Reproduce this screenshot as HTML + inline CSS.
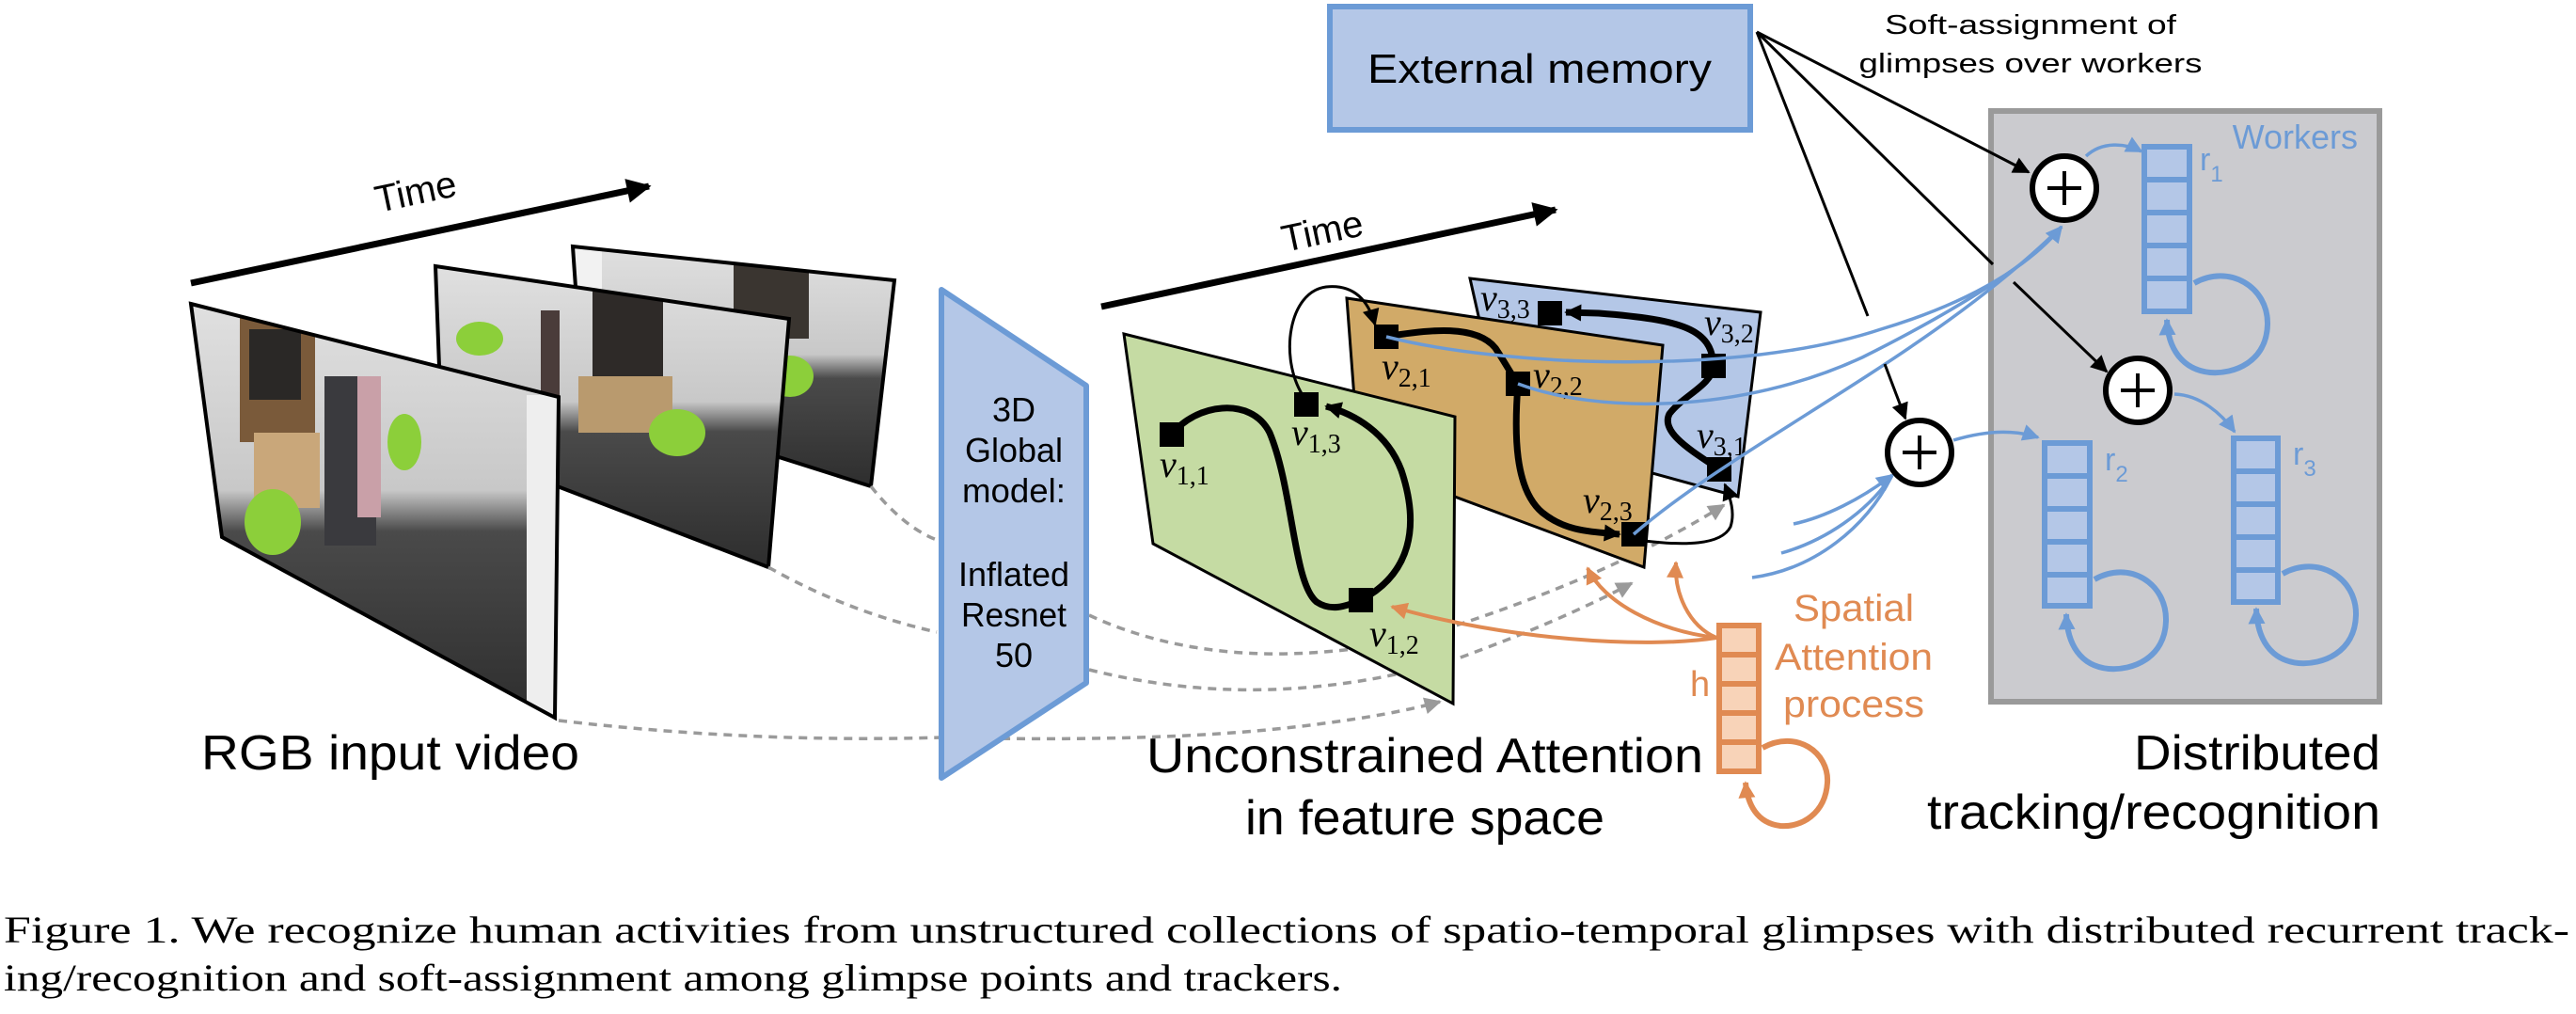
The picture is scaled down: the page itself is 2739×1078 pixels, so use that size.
<!DOCTYPE html>
<html><head><meta charset="utf-8"><style>
html,body{margin:0;padding:0;background:#fff;}
svg{display:block;}
.s{font-family:"Liberation Sans",sans-serif;}
.m{font-family:"Liberation Serif","DejaVu Serif",serif;}
</style></head><body>
<svg width="2739" height="1078" viewBox="0 0 2739 1078" xmlns="http://www.w3.org/2000/svg">
<defs>
<marker id="akb" viewBox="0 0 10 10" refX="9" refY="5" markerWidth="30" markerHeight="26" orient="auto" markerUnits="userSpaceOnUse"><path d="M0,0 L10,5 L0,10 z" fill="#000"/></marker>
<marker id="akt" viewBox="0 0 10 10" refX="9" refY="5" markerWidth="22" markerHeight="18" orient="auto" markerUnits="userSpaceOnUse"><path d="M0,0 L10,5 L0,10 z" fill="#000"/></marker>
<marker id="ab" viewBox="0 0 10 10" refX="9" refY="5" markerWidth="22" markerHeight="18" orient="auto" markerUnits="userSpaceOnUse"><path d="M0,0 L10,5 L0,10 z" fill="#6c9bd6"/></marker>
<marker id="ao" viewBox="0 0 10 10" refX="9" refY="5" markerWidth="22" markerHeight="18" orient="auto" markerUnits="userSpaceOnUse"><path d="M0,0 L10,5 L0,10 z" fill="#e08a52"/></marker>
<marker id="ag" viewBox="0 0 10 10" refX="9" refY="5" markerWidth="22" markerHeight="18" orient="auto" markerUnits="userSpaceOnUse"><path d="M0,0 L10,5 L0,10 z" fill="#9a9a9a"/></marker>
<linearGradient id="ph" x1="0" y1="0" x2="0" y2="1">
<stop offset="0" stop-color="#e0e0e0"/><stop offset="0.45" stop-color="#c8c8c8"/><stop offset="0.55" stop-color="#4a4a4a"/><stop offset="1" stop-color="#2e2e2e"/></linearGradient>
<clipPath id="c1"><polygon points="203,323 594,422 590,763 236,571"/></clipPath>
<clipPath id="c2"><polygon points="463,283 839,339 817,603 470,470"/></clipPath>
<clipPath id="c3"><polygon points="609,262 951,298 926,517 620,420"/></clipPath>
</defs>

<line x1="203" y1="301" x2="690" y2="198" stroke="#000" stroke-width="7" marker-end="url(#akb)"/>
<text class="s" x="0" y="0" font-size="40" transform="translate(402,226) rotate(-12)">Time</text>

<g>
<polygon points="609,262 951,298 926,517 620,420" fill="url(#ph)"/>
<g clip-path="url(#c3)"><rect x="780" y="270" width="80" height="90" fill="#3a3530"/><rect x="610" y="250" width="30" height="200" fill="#f2f2f2"/><ellipse cx="840" cy="400" rx="25" ry="22" fill="#8ccf3a"/></g>
<polygon points="609,262 951,298 926,517 620,420" fill="none" stroke="#000" stroke-width="4"/>
</g>
<g>
<polygon points="463,283 839,339 817,603 470,470" fill="url(#ph)"/>
<g clip-path="url(#c2)"><rect x="630" y="310" width="75" height="120" fill="#2e2a28"/><rect x="615" y="400" width="100" height="60" fill="#b99a6e"/><ellipse cx="720" cy="460" rx="30" ry="25" fill="#8ccf3a"/><ellipse cx="510" cy="360" rx="25" ry="18" fill="#8ccf3a"/><rect x="575" y="330" width="20" height="130" fill="#4a3c3a"/></g>
<polygon points="463,283 839,339 817,603 470,470" fill="none" stroke="#000" stroke-width="4"/>
</g>
<g>
<polygon points="203,323 594,422 590,763 236,571" fill="url(#ph)"/>
<g clip-path="url(#c1)"><rect x="255" y="330" width="80" height="140" fill="#7a5a3a"/><rect x="265" y="350" width="55" height="75" fill="#2a2826"/><rect x="270" y="460" width="70" height="80" fill="#c9a77a"/><ellipse cx="290" cy="555" rx="30" ry="35" fill="#8ccf3a"/><rect x="345" y="400" width="55" height="180" fill="#3a3a3e"/><rect x="380" y="400" width="25" height="150" fill="#c9a0a8"/><rect x="560" y="420" width="40" height="340" fill="#eeeeee"/><ellipse cx="430" cy="470" rx="18" ry="30" fill="#8ccf3a"/></g>
<polygon points="203,323 594,422 590,763 236,571" fill="none" stroke="#000" stroke-width="4"/>
</g>

<g fill="none" stroke="#9a9a9a" stroke-width="3.5" stroke-dasharray="9,7">
<path d="M926,517 Q960,560 996,574"/>
<path d="M817,603 Q900,650 996,672"/>
<path d="M594,766 Q800,790 1001,784"/>
<path d="M1158,654 Q1300,720 1500,680 Q1700,620 1833,537" marker-end="url(#ag)"/>
<path d="M1158,712 Q1350,760 1550,700 Q1660,660 1735,620" marker-end="url(#ag)"/>
<path d="M1001,784 Q1250,790 1400,770 Q1480,760 1531,746" marker-end="url(#ag)"/>
</g>

<polygon points="1001,308 1155,410 1155,726 1001,827" fill="#b4c7e7" stroke="#6c9bd6" stroke-width="6" stroke-linejoin="round"/>
<g class="s" font-size="36" text-anchor="middle">
<text x="1078" y="448">3D</text>
<text x="1078" y="491" textLength="104" lengthAdjust="spacingAndGlyphs">Global</text>
<text x="1078" y="534" textLength="110" lengthAdjust="spacingAndGlyphs">model:</text>
<text x="1078" y="623" textLength="118" lengthAdjust="spacingAndGlyphs">Inflated</text>
<text x="1078" y="666" textLength="112" lengthAdjust="spacingAndGlyphs">Resnet</text>
<text x="1078" y="709">50</text>
</g>

<line x1="1171" y1="326" x2="1654" y2="223" stroke="#000" stroke-width="7" marker-end="url(#akb)"/>
<text class="s" font-size="40" transform="translate(1366,268) rotate(-12)">Time</text>

<polygon points="1563,296 1872,332 1848,528 1600,460" fill="#b4c7e7" stroke="#000" stroke-width="3"/>
<polygon points="1432,317 1768,367 1748,603 1445,490" fill="#d1aa68" stroke="#000" stroke-width="3"/>
<polygon points="1195,355 1547,443 1545,748 1226,578" fill="#c5dba3" stroke="#000" stroke-width="3"/>

<g fill="none" stroke="#000" stroke-width="7">
<path d="M1246,462 C1270,430 1330,420 1350,460 C1375,520 1375,620 1400,640 C1415,650 1430,645 1447,638"/>
<path d="M1447,638 C1500,610 1510,560 1490,500 C1475,460 1440,440 1410,432" marker-end="url(#akt)"/>
<path d="M1474,358 C1520,350 1570,345 1590,370 C1600,385 1605,395 1614,408"/>
<path d="M1614,408 C1610,460 1610,520 1640,545 C1665,565 1690,565 1722,568" marker-end="url(#akt)"/>
<path d="M1822,389 C1820,410 1790,420 1775,440 C1765,460 1800,480 1828,499"/>
<path d="M1822,389 C1820,350 1790,340 1700,333 L1665,332" marker-end="url(#akt)"/>
</g>
<g fill="none" stroke="#000" stroke-width="3">
<path d="M1385,420 C1360,380 1370,310 1410,305 C1440,302 1455,320 1462,345" marker-end="url(#akt)"/>
<path d="M1748,575 C1790,580 1830,580 1840,560 C1845,545 1840,530 1834,515" marker-end="url(#akt)"/>
</g>
<g fill="#000">
<rect x="1233" y="449" width="26" height="26"/>
<rect x="1376" y="417" width="26" height="26"/>
<rect x="1434" y="625" width="26" height="26"/>
<rect x="1461" y="345" width="26" height="26"/>
<rect x="1601" y="395" width="26" height="26"/>
<rect x="1724" y="555" width="26" height="26"/>
<rect x="1635" y="320" width="26" height="26"/>
<rect x="1809" y="376" width="26" height="26"/>
<rect x="1815" y="486" width="26" height="26"/>
</g>
<g class="m" font-size="40">
<text x="1233" y="507"><tspan font-style="italic">v</tspan><tspan font-size="28" dy="8">1,1</tspan></text>
<text x="1373" y="473"><tspan font-style="italic">v</tspan><tspan font-size="28" dy="8">1,3</tspan></text>
<text x="1456" y="687"><tspan font-style="italic">v</tspan><tspan font-size="28" dy="8">1,2</tspan></text>
<text x="1469" y="403"><tspan font-style="italic">v</tspan><tspan font-size="28" dy="8">2,1</tspan></text>
<text x="1630" y="412"><tspan font-style="italic">v</tspan><tspan font-size="28" dy="8">2,2</tspan></text>
<text x="1683" y="545"><tspan font-style="italic">v</tspan><tspan font-size="28" dy="8">2,3</tspan></text>
<text x="1574" y="330"><tspan font-style="italic">v</tspan><tspan font-size="28" dy="8">3,3</tspan></text>
<text x="1812" y="356"><tspan font-style="italic">v</tspan><tspan font-size="28" dy="8">3,2</tspan></text>
<text x="1804" y="476"><tspan font-style="italic">v</tspan><tspan font-size="28" dy="8">3,1</tspan></text>
</g>

<rect x="1414" y="7" width="447" height="131" fill="#b4c7e7" stroke="#6c9bd6" stroke-width="6"/>
<text class="s" x="1637" y="88" font-size="44" text-anchor="middle" textLength="366" lengthAdjust="spacingAndGlyphs">External memory</text>
<text class="s" x="2159" y="36" font-size="29" text-anchor="middle" textLength="310" lengthAdjust="spacingAndGlyphs">Soft-assignment of</text>
<text class="s" x="2159" y="77" font-size="29" text-anchor="middle" textLength="365" lengthAdjust="spacingAndGlyphs">glimpses over workers</text>

<rect x="2117" y="118" width="413" height="628" fill="#cbcbcf" stroke="#9a9a9a" stroke-width="6"/>
<text class="s" x="2507" y="158" font-size="36" fill="#6c9bd6" text-anchor="end">Workers</text>

<g fill="none" stroke="#6c9bd6" stroke-width="3.5">
<path d="M1474,358 C1600,390 1850,400 2000,350 C2100,320 2160,280 2192,241" marker-end="url(#ab)"/>
<path d="M1614,408 C1700,440 1850,440 1980,380 C2080,330 2160,280 2192,241"/>
<path d="M1737,568 C1850,470 2050,380 2192,241"/>
<path d="M1907,557 C1940,550 1980,530 2012,505" marker-end="url(#ab)"/>
<path d="M1894,588 C1940,575 1985,545 2012,505"/>
<path d="M1863,614 C1930,605 1985,560 2012,505"/>
<path d="M2218,166 C2235,150 2260,152 2277,161" marker-end="url(#ab)"/>
<path d="M2077,468 C2110,458 2140,456 2167,465" marker-end="url(#ab)"/>
<path d="M2312,419 C2340,420 2362,440 2376,459" marker-end="url(#ab)"/>
</g>

<g stroke="#000" stroke-width="3" fill="none">
<line x1="1868" y1="34" x2="2157" y2="183" marker-end="url(#akt)"/>
<line x1="1868" y1="34" x2="2119" y2="281"/>
<line x1="2141" y1="300" x2="2240" y2="395" marker-end="url(#akt)"/>
<line x1="1868" y1="34" x2="1986" y2="336"/>
<line x1="2004" y1="387" x2="2026" y2="445" marker-end="url(#akt)"/>
</g>

<g fill="#fff" stroke="#000" stroke-width="6">
<circle cx="2195" cy="200" r="34"/>
<circle cx="2273" cy="415" r="34"/>
<circle cx="2041" cy="481" r="34"/>
</g>
<g stroke="#000" stroke-width="4">
<path d="M2177,200 h36 M2195,182 v36"/>
<path d="M2255,415 h36 M2273,397 v36"/>
<path d="M2023,481 h36 M2041,463 v36"/>
</g>

<g fill="#b4c7e7" stroke="#6c9bd6" stroke-width="6">
<rect x="2280" y="156" width="48" height="35"/><rect x="2280" y="191" width="48" height="35"/><rect x="2280" y="226" width="48" height="35"/><rect x="2280" y="261" width="48" height="35"/><rect x="2280" y="296" width="48" height="35"/>
<rect x="2174" y="471" width="48" height="35"/><rect x="2174" y="506" width="48" height="35"/><rect x="2174" y="541" width="48" height="35"/><rect x="2174" y="576" width="48" height="35"/><rect x="2174" y="611" width="48" height="33"/>
<rect x="2375" y="466" width="47" height="35"/><rect x="2375" y="501" width="47" height="35"/><rect x="2375" y="536" width="47" height="35"/><rect x="2375" y="571" width="47" height="35"/><rect x="2375" y="606" width="47" height="34"/>
</g>
<g class="s" fill="#6c9bd6" font-size="34">
<text x="2339" y="181">r<tspan font-size="24" dy="12">1</tspan></text>
<text x="2238" y="500">r<tspan font-size="24" dy="12">2</tspan></text>
<text x="2438" y="494">r<tspan font-size="24" dy="12">3</tspan></text>
</g>
<g fill="none" stroke="#6c9bd6" stroke-width="6">
<path d="M2333,301 C2370,280 2412,305 2411,345 C2410,385 2375,398 2350,396 C2320,393 2305,370 2304,340" marker-end="url(#ab)"/>
<path d="M2227,616 C2264,595 2304,620 2303,660 C2302,700 2267,713 2242,711 C2212,708 2198,685 2197,653" marker-end="url(#ab)"/>
<path d="M2427,610 C2464,589 2506,614 2505,654 C2504,694 2469,707 2444,705 C2414,702 2400,679 2399,647" marker-end="url(#ab)"/>
</g>

<g fill="#f8d3b8" stroke="#e08a52" stroke-width="6">
<rect x="1828" y="665" width="42" height="31"/><rect x="1828" y="696" width="42" height="31"/><rect x="1828" y="727" width="42" height="31"/><rect x="1828" y="758" width="42" height="31"/><rect x="1828" y="789" width="42" height="31"/>
</g>
<g fill="none" stroke="#e08a52" stroke-width="4">
<path d="M1825,678 C1750,690 1600,680 1480,645" marker-end="url(#ao)"/>
<path d="M1825,678 C1760,670 1705,640 1688,604" marker-end="url(#ao)"/>
<path d="M1825,678 C1795,665 1780,630 1782,598" marker-end="url(#ao)"/>
</g>
<path d="M1874,795 C1910,775 1945,800 1943,832 C1941,865 1915,880 1893,878 C1868,875 1858,855 1856,832" fill="none" stroke="#e08a52" stroke-width="6" marker-end="url(#ao)"/>
<text class="s" x="1797" y="740" font-size="38" fill="#e08a52">h</text>
<g class="s" font-size="40" fill="#e08a52" text-anchor="middle">
<text x="1971" y="660" textLength="128" lengthAdjust="spacingAndGlyphs">Spatial</text>
<text x="1971" y="712" textLength="168" lengthAdjust="spacingAndGlyphs">Attention</text>
<text x="1971" y="762" textLength="150" lengthAdjust="spacingAndGlyphs">process</text>
</g>

<g class="s" font-size="52">
<text x="214" y="818" textLength="402" lengthAdjust="spacingAndGlyphs">RGB input video</text>
<text x="1219" y="821" textLength="592" lengthAdjust="spacingAndGlyphs">Unconstrained Attention</text>
<text x="1324" y="887" textLength="382" lengthAdjust="spacingAndGlyphs">in feature space</text>
<text x="2269" y="818" textLength="262" lengthAdjust="spacingAndGlyphs">Distributed</text>
<text x="2049" y="881" textLength="482" lengthAdjust="spacingAndGlyphs">tracking/recognition</text>
</g>

<g class="m" font-size="40">
<text x="4" y="1002" textLength="2728" lengthAdjust="spacingAndGlyphs">Figure 1. We recognize human activities from unstructured collections of spatio-temporal glimpses with distributed recurrent track-</text>
<text x="4" y="1053" textLength="1423" lengthAdjust="spacingAndGlyphs">ing/recognition and soft-assignment among glimpse points and trackers.</text>
</g>
</svg>
</body></html>
